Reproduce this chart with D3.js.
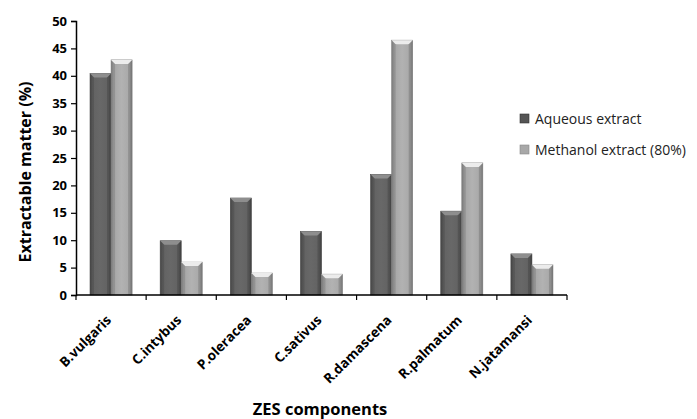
<!DOCTYPE html>
<html><head><meta charset="utf-8">
<script src="https://cdn.jsdelivr.net/npm/d3@7"></script>
<style>body{margin:0;background:#fff}svg{display:block}</style>
</head><body>
<script>
const categories = ["B.vulgaris","C.intybus","P.oleracea","C.sativus","R.damascena","R.palmatum","N.jatamansi"];
const aqueous = [40.4, 9.9, 17.7, 11.6, 22.0, 15.3, 7.5];
const methanol = [42.9, 6.0, 4.0, 3.8, 46.5, 24.1, 5.5];
const seriesNames = ["Aqueous extract","Methanol extract (80%)"];
const yTicks = [0,5,10,15,20,25,30,35,40,45,50];

const W=697,H=419;
const m={left:76,right:130,top:21,bottom:124};
const svg=d3.select("body").append("svg").attr("width",W).attr("height",H);
const defs=svg.append("defs");
function grad(id,stops){
  const g=defs.append("linearGradient").attr("id",id).attr("x1","0").attr("x2","1").attr("y1","0").attr("y2","0");
  stops.forEach(s=>g.append("stop").attr("offset",s[0]).attr("stop-color",s[1]));
}
grad("gDark",[[0,"#505050"],[0.12,"#626262"],[0.5,"#686868"],[0.88,"#626262"],[1,"#4a4a4a"]]);
grad("gLight",[[0,"#8c8c8c"],[0.12,"#a6a6a6"],[0.5,"#b2b2b2"],[0.88,"#a8a8a8"],[1,"#8a8a8a"]]);

const x=d3.scaleBand().domain(categories).range([m.left,W-m.right]).paddingInner(0.4).paddingOuter(0.2);
const x0=d3.scaleBand().domain(categories).range([m.left,W-m.right]);
const xs=d3.scaleBand().domain([0,1]).range([0,x.bandwidth()]);
const y=d3.scaleLinear().domain([0,50]).range([H-m.bottom,m.top]);

const font="'Open Sans', Lato, sans-serif";
const series=[{vals:aqueous,fill:"url(#gDark)",topL:"#8e8e8e",edge:"#4a4a4a"},
              {vals:methanol,fill:"url(#gLight)",topL:"#ececec",edge:"#8a8a8a"}];
series.forEach((s,si)=>{
  const g=svg.append("g");
  categories.forEach((c,i)=>{
    const bx=x(c)+xs(si), bw=xs.bandwidth(), by=y(s.vals[i]), bh=y(0)-by;
    g.append("rect").attr("x",bx).attr("y",by).attr("width",bw).attr("height",bh).attr("fill",s.fill).attr("stroke",s.edge).attr("stroke-width",0.6);
    const b=4;
    g.append("polygon").attr("points",`${bx},${by} ${bx+bw},${by} ${bx+bw-b},${by+b} ${bx+b},${by+b}`).attr("fill",s.topL);
    g.append("polygon").attr("points",`${bx},${by} ${bx+b},${by+b} ${bx+b},${by+bh} ${bx},${by+bh}`).attr("fill","#000").attr("opacity",0.12);
    g.append("polygon").attr("points",`${bx+bw},${by} ${bx+bw-b},${by+b} ${bx+bw-b},${by+bh} ${bx+bw},${by+bh}`).attr("fill","#000").attr("opacity",0.15);
  });
});

// y axis
const ya=svg.append("g").attr("transform",`translate(${m.left},0)`)
  .call(d3.axisLeft(y).tickValues(yTicks).tickSize(5).tickPadding(4));
ya.select(".domain").attr("stroke","#000").attr("stroke-width",1.5);
ya.selectAll(".tick line").attr("stroke","#000").attr("stroke-width",1.2);
ya.selectAll("text").attr("font-family",font).attr("font-weight","bold").attr("font-size",13).attr("fill","#000");

// x axis
const xa=svg.append("g").attr("transform",`translate(0,${y(0)})`);
xa.append("line").attr("x1",m.left).attr("x2",W-m.right).attr("stroke","#000").attr("stroke-width",1.5);
const bounds=categories.map(c=>x0(c)).concat([x0(categories[categories.length-1])+x0.bandwidth()]);
xa.selectAll("line.t").data(bounds).enter().append("line").attr("class","t")
  .attr("x1",d=>d).attr("x2",d=>d).attr("y1",0).attr("y2",5).attr("stroke","#000").attr("stroke-width",1.2);
xa.selectAll("text").data(categories).enter().append("text")
  .attr("transform",c=>`translate(${x0(c)+x0.bandwidth()/2+1},${26}) rotate(-45)`)
  .attr("text-anchor","end").attr("font-family",font).attr("font-weight","bold").attr("font-size",13.5).attr("fill","#000")
  .text(c=>c);

// axis titles
svg.append("text").attr("transform",`translate(31,172) rotate(-90)`)
  .attr("text-anchor","middle").attr("font-family",font).attr("font-weight","bold").attr("font-size",16).attr("fill","#000")
  .text("Extractable matter (%)");
svg.append("text").attr("x",320).attr("y",415).attr("text-anchor","middle")
  .attr("font-family",font).attr("font-weight","bold").attr("font-size",16.5).attr("fill","#000").text("ZES components");

// legend
const lg=svg.append("g");
seriesNames.forEach((n,i)=>{
  const ly=119+i*31;
  lg.append("rect").attr("x",520).attr("y",ly-5).attr("width",9).attr("height",9).attr("fill",i?"#a8a8a8":"#555").attr("stroke",i?"#888":"#333").attr("stroke-width",0.6);
  lg.append("text").attr("x",535).attr("y",ly+5).attr("font-family",font).attr("font-size",14).attr("fill","#222").text(n);
});
</script>
</body></html>
